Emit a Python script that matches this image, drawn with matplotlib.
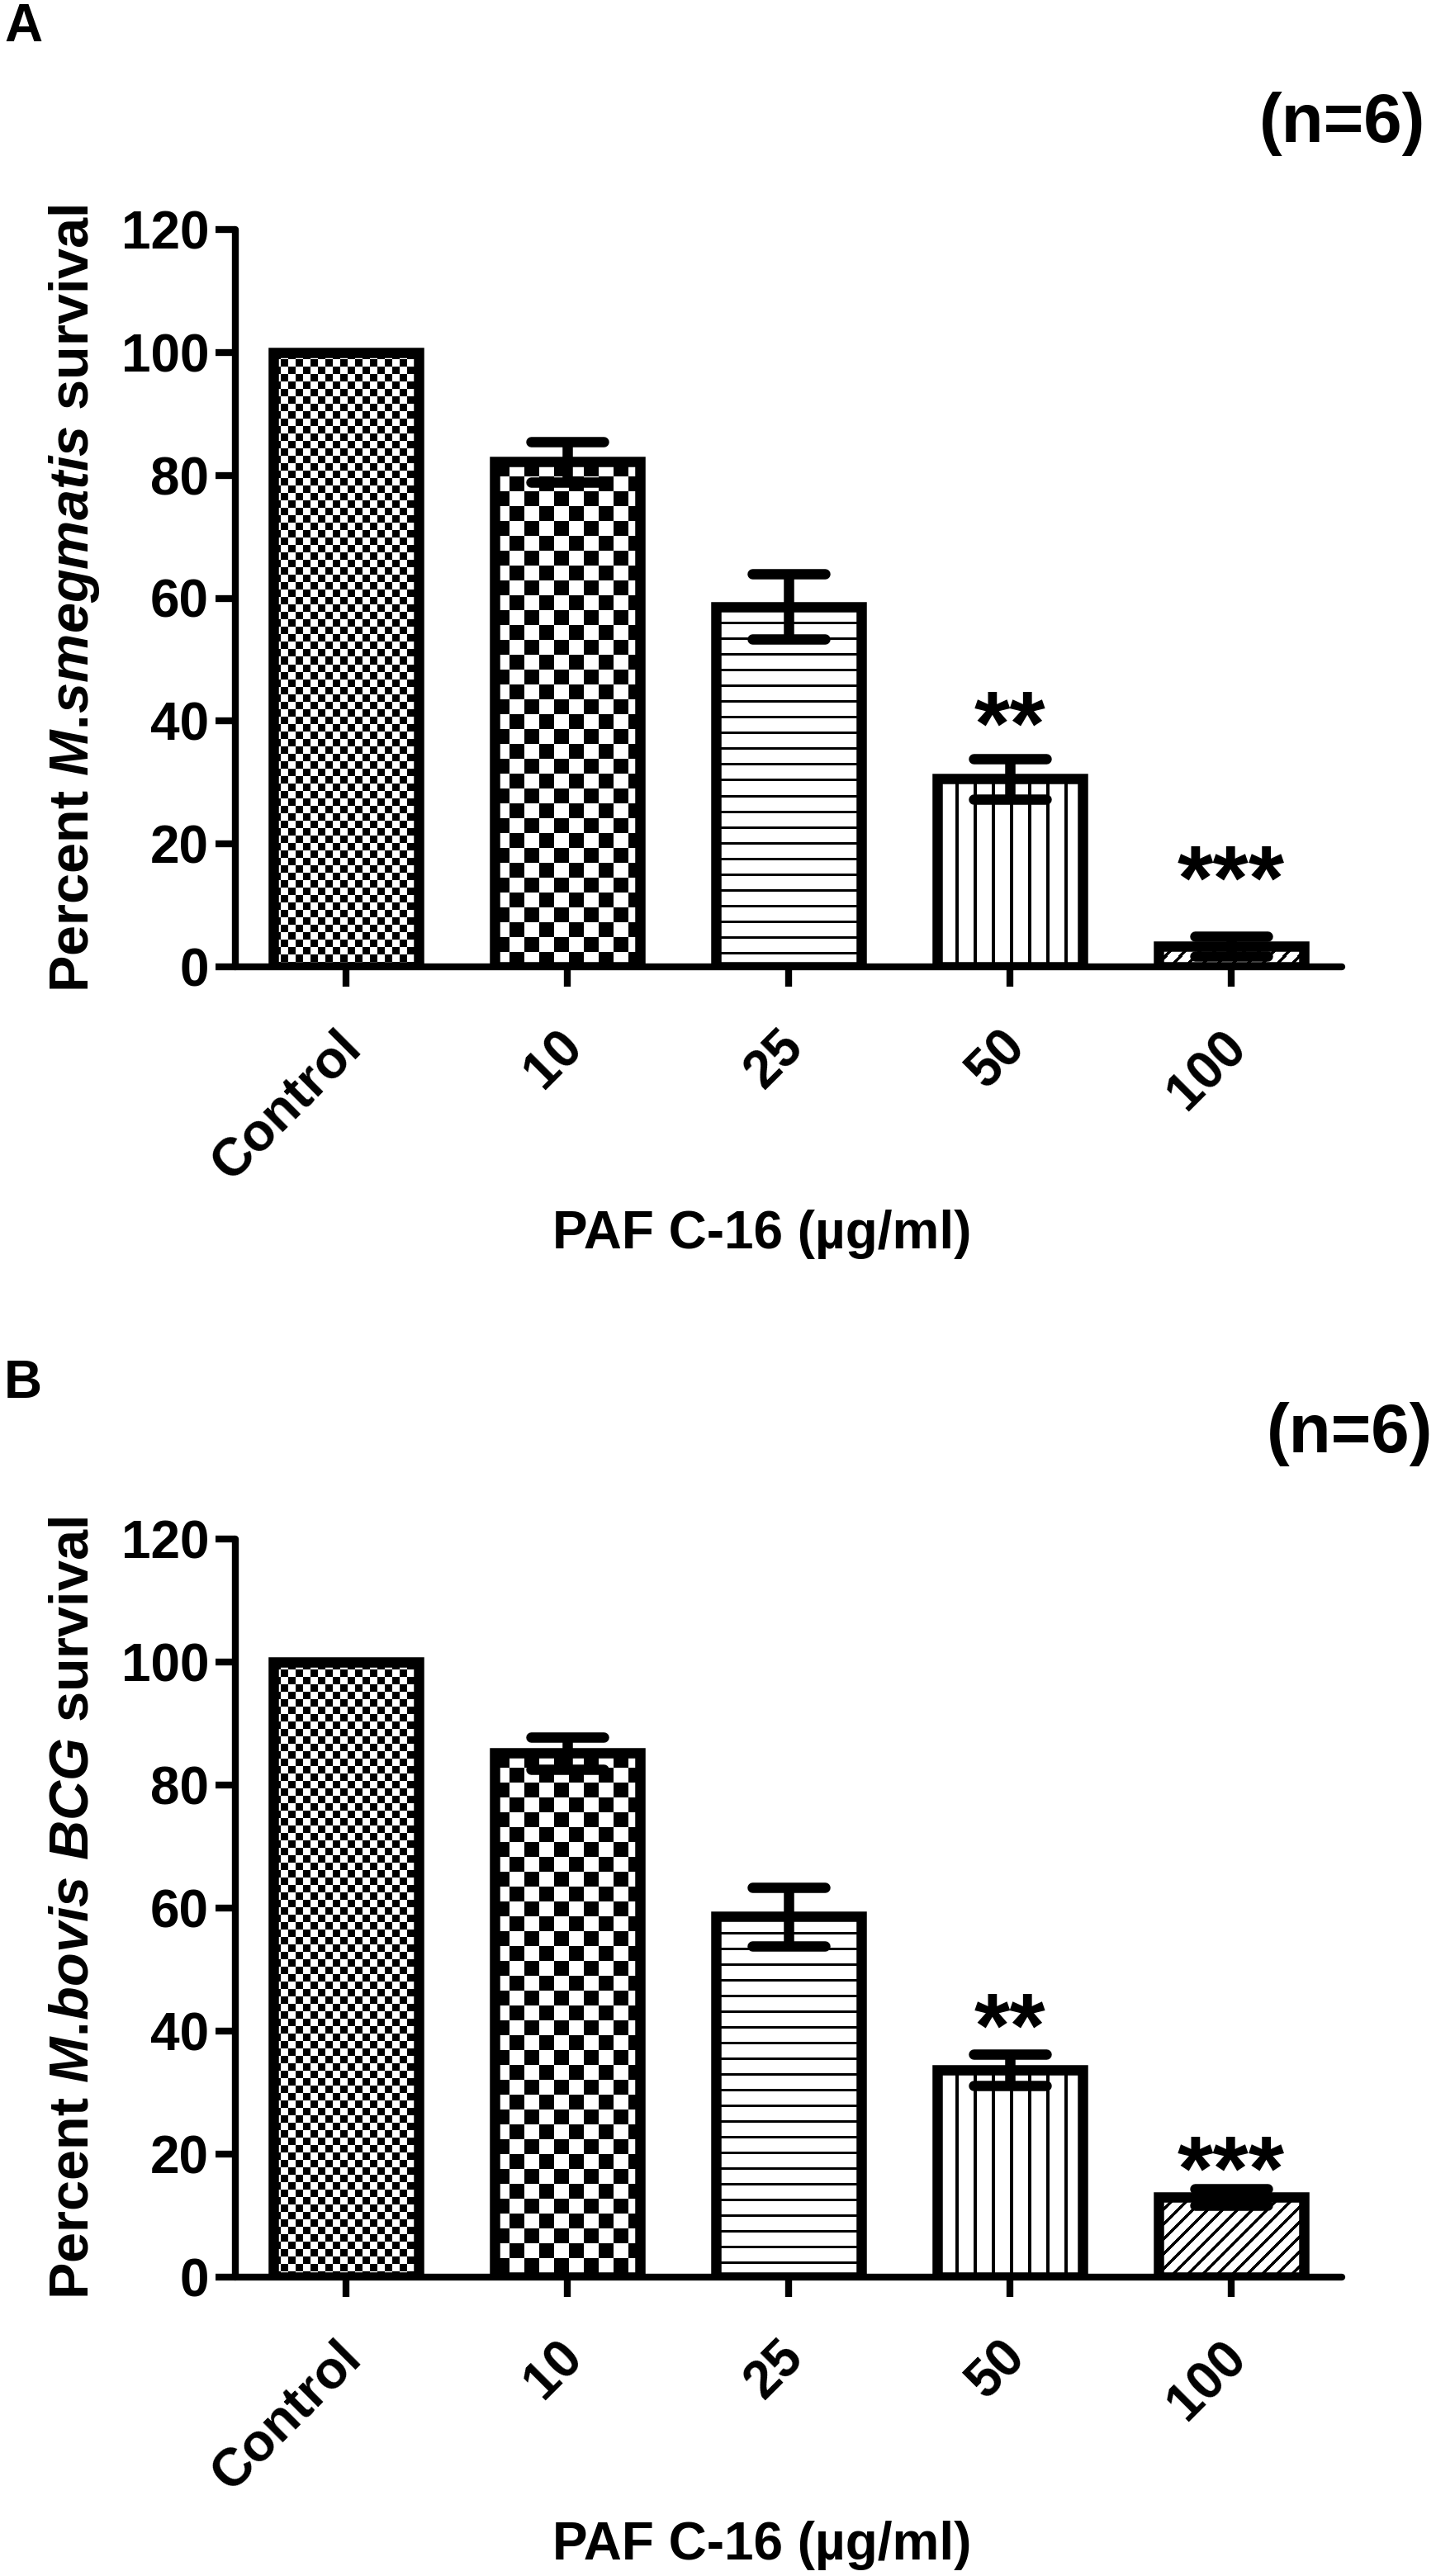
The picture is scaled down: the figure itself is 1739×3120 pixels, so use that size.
import numpy as np
import matplotlib
matplotlib.use('Agg')
import matplotlib.pyplot as plt
from matplotlib.transforms import ScaledTranslation, offset_copy

plt.rcParams['font.family'] = ['Liberation Sans', 'DejaVu Sans']
plt.rcParams['font.weight'] = 'bold'
plt.rcParams['mathtext.fontset'] = 'custom'
plt.rcParams['mathtext.rm'] = 'Liberation Sans:bold'
plt.rcParams['mathtext.it'] = 'Liberation Sans:italic:bold'
plt.rcParams['mathtext.bf'] = 'Liberation Sans:bold'

# data
categories = ['Control', '10', '25', '50', '100']
fills = ['check_fine', 'check_coarse', 'hlines', 'vlines', 'diag']

smeg_mean = [100, 82.2, 58.6, 30.6, 3.4]
smeg_sem = [0, 3.3, 5.3, 3.3, 1.6]
smeg_stars = ['', '', '', '**', '***']
smeg_star_y = [0, 0, 0, 42.7, 17.6]

bcg_mean = [100, 85.2, 58.6, 33.7, 13.0]
bcg_sem = [0, 2.6, 4.8, 2.6, 1.3]
bcg_stars = ['', '', '', '**', '***']
bcg_star_y = [0, 0, 0, 44.0, 20.8]

yticks = [0, 20, 40, 60, 80, 100, 120]
xlabel = 'PAF C-16 (µg/ml)'

W, H = 1739, 3120
fig = plt.figure(figsize=(W / 100, H / 100), dpi=100)


def pattern(kind, w, h):
    yy, xx = np.mgrid[0:h, 0:w]
    if kind == 'check_fine':
        on = (xx // 9 + yy // 9) % 2 == 0
    elif kind == 'check_coarse':
        on = (xx // 18 + yy // 18) % 2 == 0
    elif kind == 'hlines':
        on = (yy % 19) < 3
    elif kind == 'vlines':
        on = (xx % 22) < 4
    else:
        on = ((xx + yy) % 18) < 5
    return np.where(on, 0.0, 1.0)


def panel(top_px, zero_px, means, sems, stars, star_y, ylab, letter, letter_top, n_xy):
    left, right = 285, 1625
    ax = fig.add_axes([left / W, 1 - zero_px / H, (right - left) / W, (zero_px - top_px) / H])
    x = np.arange(len(categories))
    means = np.array(means, dtype=float)
    sems = np.array(sems, dtype=float)
    bw = 0.66

    ax.set_xlim(-0.5, 4.5)
    ax.set_ylim(0, 120)

    bars = ax.bar(x, means, width=bw, facecolor='none', edgecolor='black',
                  linewidth=9, zorder=3)

    # fill patterns, one pixel per array cell
    p0 = ax.transData.transform((0, 0))
    p1 = ax.transData.transform((1, 1))
    sx, sy = p1[0] - p0[0], p1[1] - p0[1]
    for xi, m, kind, b in zip(x, means, fills, bars):
        wpx = max(int(round(bw * sx)), 1)
        hpx = max(int(round(m * sy)), 1)
        im = ax.imshow(pattern(kind, wpx, hpx), cmap='gray', vmin=0, vmax=1,
                       extent=(xi - bw / 2, xi + bw / 2, 0, m), origin='upper',
                       interpolation='nearest', aspect='auto', zorder=2)
        im.set_clip_path(b)
    ax.set_xlim(-0.5, 4.5)
    ax.set_ylim(0, 120)

    # error bars
    has = sems > 0
    ax.vlines(x[has], (means - sems)[has], (means + sems)[has], color='black',
              linewidth=9, zorder=4)
    cap_y = np.concatenate([(means + sems)[has], (means - sems)[has]])
    cap_x = np.concatenate([x[has], x[has]])
    caps = ax.hlines(cap_y, cap_x - 0.165, cap_x + 0.165, color='black',
                     linewidth=9, zorder=4)
    caps.set_capstyle('round')

    # significance
    fs_star = 80
    star_tr = offset_copy(ax.transData, fig=fig, y=-0.55 * fs_star, units='points')
    for xi, s, sy_ in zip(x, stars, star_y):
        if s:
            ax.text(xi, sy_, s, ha='center', va='baseline', fontsize=fs_star,
                    transform=star_tr, zorder=5)

    for side in ['top', 'right']:
        ax.spines[side].set_visible(False)
    for side in ['left', 'bottom']:
        ax.spines[side].set_linewidth(6)
        ax.spines[side].set_capstyle('round')
    ax.spines['left'].set_bounds(0, 120)

    ax.set_yticks(yticks)
    ax.set_yticklabels([str(v) for v in yticks], fontsize=46)
    ax.set_xticks(x)
    ax.set_xticklabels(categories, fontsize=46, rotation=45, ha='right', va='top')
    ax.tick_params(axis='both', length=17, width=6, direction='out')
    ax.tick_params(axis='y', pad=6)
    ax.tick_params(axis='x', pad=31)
    shift = ScaledTranslation(0.30, 0, fig.dpi_scale_trans)
    for lab in ax.get_xticklabels():
        lab.set_transform(lab.get_transform() + shift)

    ax.text((107 - left) / (right - left), 0.5, ylab, rotation=90,
            rotation_mode='anchor', ha='center', va='baseline', fontsize=48,
            transform=ax.transAxes)
    ax.text(0.476, -0.382, xlabel, ha='center', va='baseline', fontsize=46,
            transform=ax.transAxes)

    fig.text(5 / W, 1 - letter_top / H, letter, ha='left', va='top', fontsize=46)
    fig.text(n_xy[0] / W, 1 - n_xy[1] / H, '(n=6)', ha='center', va='center',
             fontsize=60)
    return ax


panel(278, 1171, smeg_mean, smeg_sem, smeg_stars, smeg_star_y,
      r'Percent $\mathit{M.\!smegmatis}$ survival', 'A', 3, (1626, 150))
panel(1864, 2758, bcg_mean, bcg_sem, bcg_stars, bcg_star_y,
      r'Percent $\mathit{M.\!bovis\ BCG}$ survival', 'B', 1646, (1635, 1737))

fig.savefig('out.png', dpi=100, facecolor='white')
